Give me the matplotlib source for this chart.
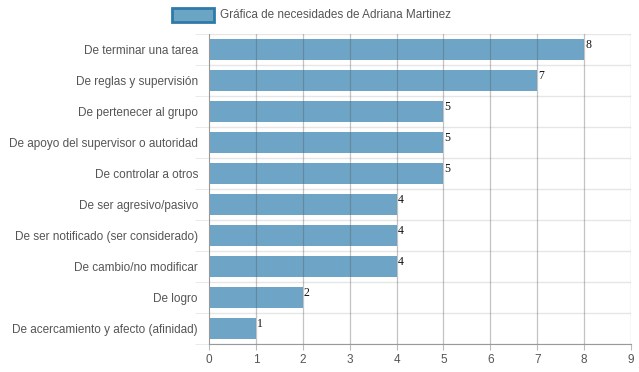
import matplotlib
matplotlib.use('Agg')
import matplotlib.pyplot as plt
from matplotlib.patches import Rectangle
import numpy as np

categorias = ['De terminar una tarea', 'De reglas y supervisión', 'De pertenecer al grupo',
              'De apoyo del supervisor o autoridad', 'De controlar a otros', 'De ser agresivo/pasivo',
              'De ser notificado (ser considerado)', 'De cambio/no modificar', 'De logro',
              'De acercamiento y afecto (afinidad)']
valores = [8, 7, 5, 5, 5, 4, 4, 4, 2, 1]
titulo_leyenda = 'Gráfica de necesidades de Adriana Martinez'

plt.rcParams['font.family'] = ['Liberation Sans', 'DejaVu Sans']
txt = '#555555'

fig = plt.figure(figsize=(6.39, 3.72), dpi=100)
ax = fig.add_axes([209/639, 1 - 344/372, (631 - 209)/639, (344 - 34)/372])

y = np.arange(len(categorias))
ax.barh(y, valores, height=0.7, color='#4a8fb8', alpha=0.8, zorder=1)

for yi, v in zip(y, valores):
    ax.text(v + 0.02, yi + 0.05, str(v), va='bottom', ha='left', fontsize=8.5,
            family='Liberation Serif', color='#111111')

ax.set_xlim(0, 9)
ax.set_ylim(len(categorias) - 0.5, -0.5)
ax.set_xticks(range(10))
ax.set_yticks(y)
ax.set_yticklabels(categorias)

# vertical grid on top of bars, horizontal grid at category boundaries
for xv in range(1, 10):
    ax.axvline(xv, color='#555555', alpha=0.35, lw=0.9, zorder=3)
for b in np.arange(-0.5, len(categorias), 1.0):
    ax.axhline(b, color='#e6e6e6', lw=1.0, zorder=0)

for s in ['top', 'right']:
    ax.spines[s].set_visible(False)
ax.spines['left'].set_color('#999999')
ax.spines['bottom'].set_color('#999999')
ax.spines['left'].set_zorder(4)

ax.tick_params(axis='x', colors='#bbbbbb', labelcolor=txt, labelsize=8.5, length=4, pad=3)
ax.set_yticks(np.arange(-0.5, len(categorias), 1.0), minor=True)
ax.tick_params(axis='y', which='major', length=0, pad=8, labelcolor=txt, labelsize=8.5)
ax.tick_params(axis='y', which='minor', length=10, colors='#e6e6e6')

# legend box drawn in figure coords
fig.patches.append(Rectangle((172/639, 1 - 22/372), 42/639, 14/372, transform=fig.transFigure,
                             facecolor='#6aa5c4', edgecolor='#2f7aa8', lw=2))
fig.text(220/639, 1 - 15/372, titulo_leyenda, fontsize=8.5, color=txt, va='center', ha='left')

fig.savefig('out.png', dpi=100)
